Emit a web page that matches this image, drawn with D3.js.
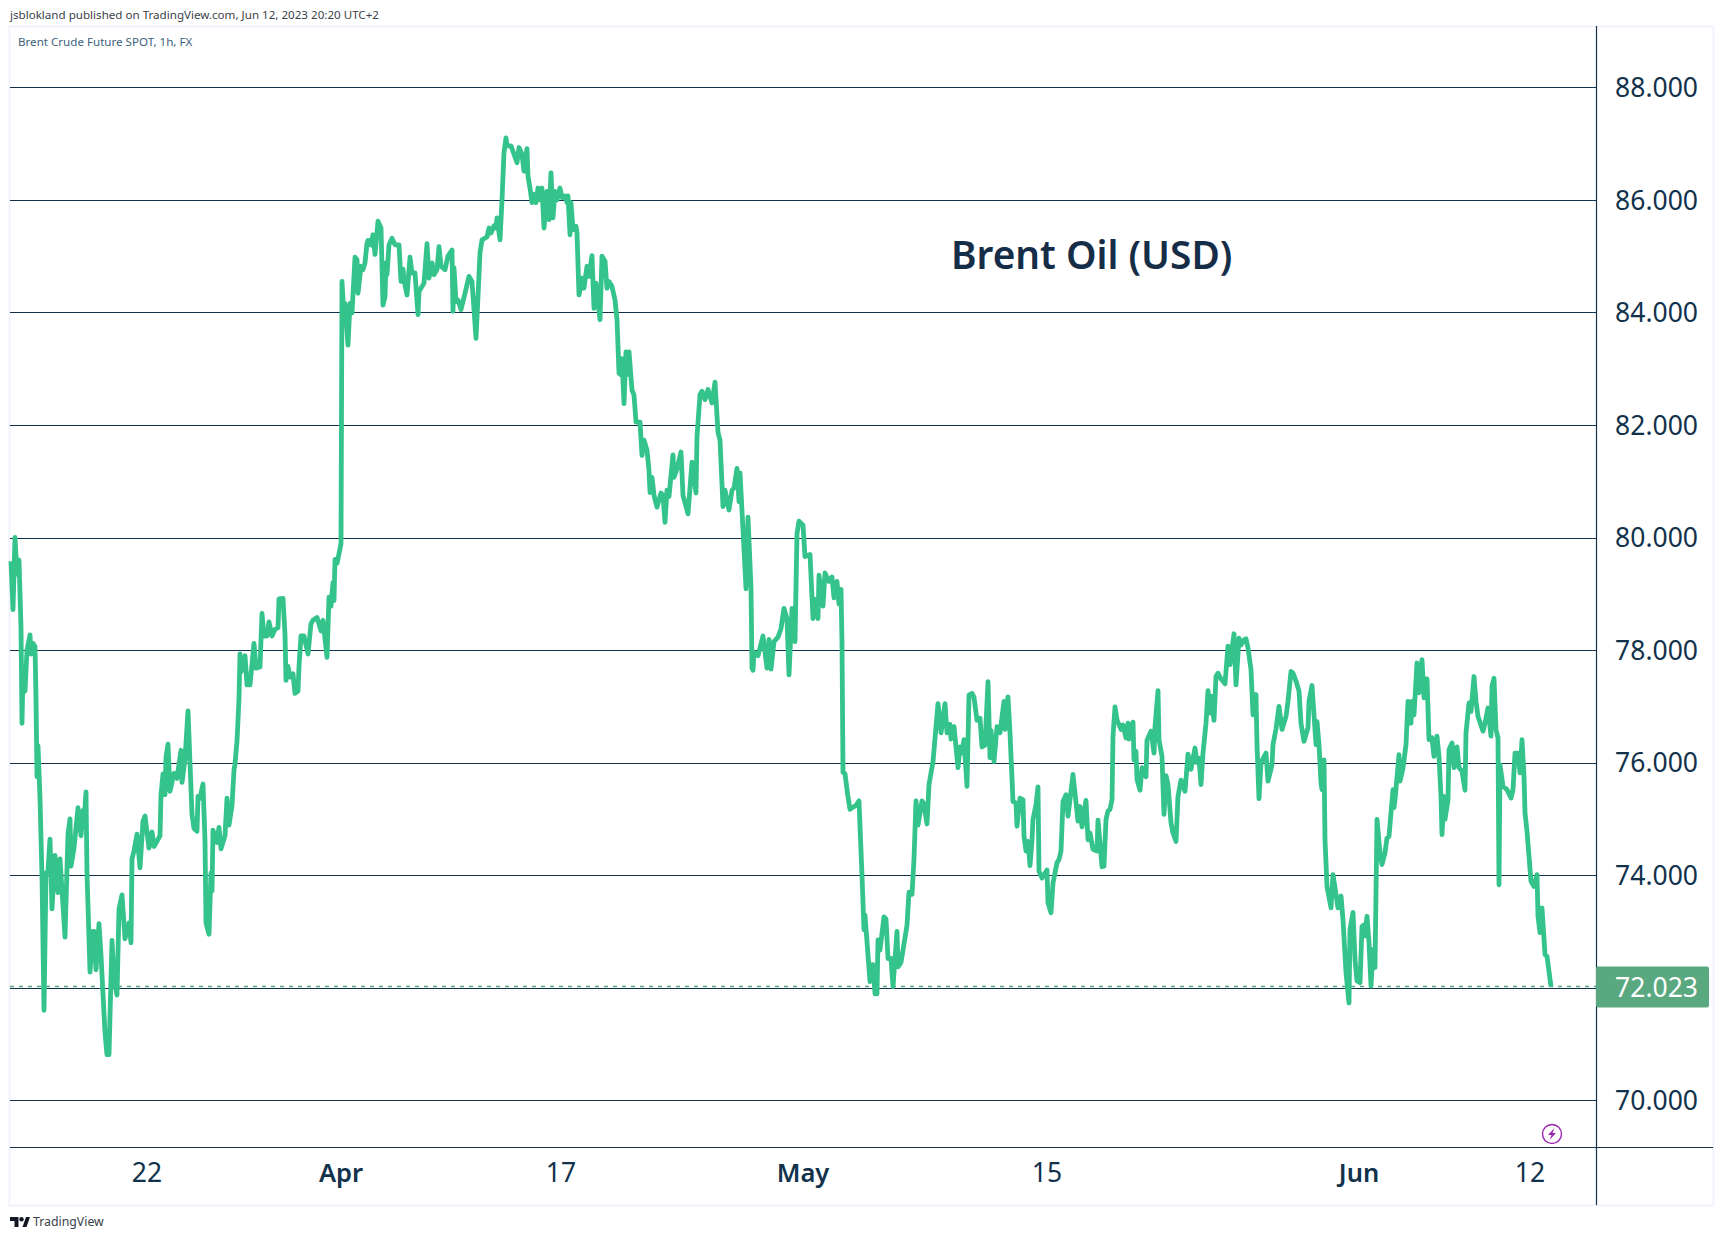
<!DOCTYPE html>
<html>
<head>
<meta charset="utf-8">
<title>Brent Oil (USD)</title>
<script src="https://cdn.jsdelivr.net/npm/d3@7"></script>
<style>
  html, body { margin: 0; padding: 0; background: #fff; }
  svg { display: block; }
</style>
</head>
<body>
<svg id="chart" width="1724" height="1240"></svg>
<script>
// Traced hourly closes as [bar number, USD], split by stretch of the session.
// Bar numbers count from the left edge of the pane.
const marchCloses = [[1,79.58],[3,78.72],[5,80.0],[7,79.35],[9,79.6],[11,78.4],[12,76.7],[13,77.6],[15,77.27],[17,78.0],[20,78.27],[21,77.93],[23,78.12],[25,78.06],[26,77.14],[27,75.75],[28,76.3],[30,75.37],[32,73.97],[34,71.6],[36,74.04],[38,74.07],[40,74.64],[42,73.4],[45,74.35],[48,73.69],[50,74.29],[55,72.9],[58,74.73],[60,75.0],[61,74.16],[64,74.48],[68,75.2],[71,74.7],[73,75.15],[74,74.96],[76,75.48],[77,74.04],[80,72.28],[83,73.0],[84,73.0],[86,72.32],[89,73.14],[91,72.58],[95,71.2],[97,70.81],[99,70.81],[102,72.84],[104,72.14],[107,71.87],[109,73.4],[112,73.65],[115,72.87],[119,73.15],[121,72.8],[122,74.29],[124,74.43],[127,74.73],[130,74.13],[133,74.96],[135,75.05],[139,74.48],[142,74.77],[144,74.51],[150,74.7],[151,75.43],[153,75.8],[155,75.43],[156,76.09],[158,76.33],[160,75.49],[164,75.81],[167,75.72],[171,76.22],[172,75.65],[175,76.06],[178,76.92],[180,76.0],[182,75.08],[184,74.83],[187,74.78],[188,75.4],[190,75.37],[193,75.62],[195,74.61],[196,73.15],[199,72.95],[201,74.04],[202,73.72],[203,74.8],[207,74.58],[209,74.85],[211,74.47],[215,74.7],[217,75.37],[219,74.89],[222,75.24],[224,75.87],[225,75.97],[227,76.38],[229,77.14],[230,77.93],[231,77.61],[235,77.9],[237,77.38],[240,77.38],[244,78.12],[246,77.68],[250,77.7],[252,78.65],[254,78.25],[257,78.25],[259,78.5],[262,78.25],[265,78.37],[268,78.4],[269,78.91],[273,78.92],[275,78.28],[276,77.46],[278,77.71],[280,77.52],[283,77.58],[285,77.23],[288,77.27],[289,77.71],[291,78.25],[294,78.25],[298,77.93],[301,78.47],[303,78.53],[307,78.58],[311,78.34],[313,78.53],[317,77.87],[319,78.94],[321,78.78],[323,79.2],[324,78.88],[325,79.61],[327,79.54],[331,79.89]];

const aprilCloses = [[332,84.55],[334,83.93],[335,84.16],[338,83.42],[340,84.16],[342,83.99],[345,84.98],[347,84.94],[348,84.34],[351,84.82],[353,84.76],[355,84.88],[357,85.23],[358,85.28],[361,85.2],[363,85.38],[365,85.03],[368,85.62],[371,85.5],[373,84.13],[375,84.28],[376,84.88],[377,84.67],[379,85.2],[382,85.32],[385,85.2],[389,85.2],[391,84.55],[393,84.77],[394,84.58],[397,84.31],[400,84.98],[402,84.7],[405,84.7],[408,83.96],[409,84.37],[414,84.52],[417,85.22],[419,84.61],[422,84.88],[424,84.67],[427,84.76],[429,85.17],[431,84.82],[435,84.76],[438,85.0],[442,85.11],[443,84.02],[444,84.79],[446,84.19],[448,84.22],[451,84.05],[455,84.34],[459,84.64],[462,84.55],[464,84.05],[466,83.54],[468,84.28],[470,85.06],[472,85.29],[477,85.34],[479,85.5],[481,85.41],[484,85.54],[486,85.5],[487,85.68],[490,85.29],[492,86.0],[494,86.84],[496,87.1],[497,86.96],[501,86.96],[504,86.81],[507,86.66],[509,86.93],[512,86.81],[514,86.51],[517,86.91],[518,86.42],[520,86.21],[522,85.95],[524,86.1],[526,85.95],[528,86.21],[530,86.0],[532,86.21],[534,85.5],[537,86.15],[539,85.65],[541,86.48],[543,85.68],[545,86.15],[547,86.0],[550,86.21],[552,86.04],[555,86.07],[557,85.95],[558,86.07],[560,85.38],[561,85.95],[563,85.47],[566,85.53],[567,85.41],[569,84.31],[572,84.61],[574,84.43],[577,84.82],[579,84.64],[582,85.01],[584,84.07],[586,84.52],[590,83.87],[592,85.0],[595,84.91],[597,84.43],[599,84.55],[602,84.46],[605,84.22],[607,83.87],[609,82.92],[611,82.89],[612,83.18],[614,82.38],[616,83.3],[618,82.9],[619,83.3],[622,82.62],[624,82.53],[626,82.05],[630,82.05],[632,81.46],[634,81.73],[637,81.55],[639,81.19],[640,80.8],[642,81.07],[644,80.75],[647,80.54],[651,80.79],[653,80.75],[655,80.27],[657,80.84],[659,80.73],[663,81.47],[664,81.07],[667,81.22],[671,81.52],[673,80.75],[678,80.42],[682,81.34],[686,80.79],[687,81.79],[690,82.54],[692,82.6],[695,82.45],[698,82.63],[702,82.39],[705,82.76],[708,81.87],[710,81.73],[713,80.55],[715,80.84],[719,80.49],[722,80.84],[724,80.88],[727,81.23],[729,80.64],[730,81.15],[733,80.14],[736,79.09],[738,80.36],[741,79.11],[742,77.68],[743,77.64],[744,77.96],[748,77.9],[753,78.25],[757,77.68],[759,78.19],[761,77.66],[764,78.15],[768,78.23],[771,78.38],[774,78.74],[777,78.56],[779,77.56],[782,78.74],[785,78.15],[787,80.07],[789,80.29]];

const mayCloses = [[793,80.22],[795,79.66],[800,79.7],[803,78.56],[805,78.9],[808,78.56],[809,79.33],[813,78.78],[815,79.37],[819,79.22],[822,79.3],[824,78.93],[827,79.22],[829,78.82],[831,79.08],[832,78.12],[833,75.83],[835,75.8],[838,75.39],[840,75.17],[843,75.21],[846,75.24],[849,75.32],[852,73.99],[854,73.03],[855,73.29],[860,72.11],[862,72.41],[863,72.41],[865,71.89],[867,71.89],[868,72.85],[870,72.67],[874,73.26],[876,73.22],[878,72.52],[881,72.52],[883,72.02],[887,73.0],[888,72.37],[891,72.45],[897,73.11],[899,73.7],[902,73.66],[904,74.29],[906,75.32],[908,74.89],[912,75.32],[914,75.26],[917,74.91],[919,75.61],[923,76.02],[928,77.05],[931,76.53],[935,77.05],[937,76.53],[940,76.68],[941,76.42],[944,76.64],[948,75.91],[950,76.28],[952,76.17],[954,76.41],[957,75.58],[959,77.2],[962,77.23],[964,77.16],[967,76.75],[970,76.79],[972,76.28],[975,76.31],[978,77.44],[980,76.09],[981,76.57],[984,76.02],[987,76.64],[990,76.53],[994,77.09],[995,76.59],[998,77.17],[1000,76.53],[1003,75.31],[1006,75.28],[1007,74.87],[1010,75.37],[1013,75.34],[1014,74.69],[1016,74.43],[1018,74.6],[1020,74.17],[1022,74.63],[1023,74.99],[1026,75.25],[1028,75.57],[1029,74.07],[1032,73.95],[1037,74.09],[1038,73.51],[1041,73.33],[1043,73.86],[1047,74.22],[1049,74.28],[1051,74.43],[1053,75.31],[1056,75.43],[1058,75.05],[1063,75.79],[1065,75.46],[1068,74.96],[1070,75.22],[1072,74.86],[1076,75.33],[1078,74.63],[1080,74.75],[1083,74.46],[1087,74.43],[1088,74.98],[1092,74.15],[1094,74.16],[1096,74.99],[1098,75.14],[1100,75.17],[1102,75.34],[1103,76.47],[1105,76.99],[1107,76.76],[1111,76.59],[1113,76.67],[1116,76.44],[1118,76.7],[1119,76.42],[1123,76.72],[1124,76.05],[1126,76.2],[1127,75.7],[1130,75.51],[1132,75.91],[1136,75.75],[1137,76.4],[1141,76.56],[1144,76.17],[1145,76.64],[1148,77.28],[1149,76.41],[1152,76.11],[1153,75.58],[1154,75.08],[1156,75.77],[1158,75.61],[1161,74.93],[1163,74.75],[1166,74.6],[1168,75.4],[1171,75.69],[1175,75.49],[1178,76.15],[1181,75.88],[1185,76.26],[1187,76.0],[1189,76.08],[1191,75.61],[1193,76.17],[1196,76.7],[1198,77.28],[1200,76.88],[1201,77.18],[1204,76.75],[1206,77.53],[1208,77.59],[1211,77.49],[1215,77.4],[1218,78.07],[1220,77.74],[1224,78.29],[1226,77.38],[1229,78.21],[1231,78.09],[1234,78.18],[1236,78.2],[1238,78.04],[1241,77.65],[1243,76.85],[1246,77.21],[1247,76.32],[1249,75.36],[1251,76.0],[1256,76.17],[1258,75.67],[1262,75.96],[1263,76.32],[1266,76.6],[1269,77.0],[1272,76.59],[1276,76.82],[1278,77.09],[1281,77.62],[1283,77.59],[1286,77.45],[1289,77.27],[1291,76.7],[1294,76.38],[1298,76.62],[1299,77.09],[1302,77.37],[1306,76.32],[1307,76.73],[1309,76.32],[1311,75.64],[1312,75.52],[1314,76.05],[1315,74.63],[1317,73.8],[1321,73.42],[1323,74.01],[1325,73.78],[1328,73.42],[1331,73.63],[1333,73.21],[1336,72.27],[1339,71.73]];

const juneCloses = [[1340,73.04],[1343,73.34],[1345,72.5],[1347,72.12],[1350,72.09],[1352,73.09],[1354,73.12],[1355,72.92],[1357,73.27],[1359,72.8],[1361,72.03],[1363,72.68],[1365,72.36],[1367,74.99],[1370,74.4],[1372,74.19],[1375,74.4],[1377,74.66],[1379,74.69],[1381,75.11],[1383,75.52],[1384,75.2],[1385,75.34],[1389,76.14],[1390,75.67],[1393,75.9],[1396,76.32],[1398,77.09],[1401,76.7],[1402,77.09],[1404,76.85],[1407,77.77],[1409,77.24],[1412,77.83],[1414,77.15],[1417,77.49],[1419,76.41],[1422,76.44],[1424,76.11],[1427,76.47],[1429,76.11],[1431,75.4],[1432,74.72],[1434,75.4],[1435,74.99],[1438,75.34],[1439,76.23],[1442,76.35],[1444,75.91],[1447,76.28],[1449,75.91],[1452,75.85],[1455,75.51],[1456,76.53],[1459,77.06],[1461,76.91],[1464,77.53],[1466,77.09],[1468,76.82],[1473,76.56],[1475,76.7],[1478,76.97],[1481,76.47],[1482,77.36],[1484,77.5],[1486,76.59],[1488,76.44],[1489,73.83],[1490,75.96],[1493,75.58],[1497,75.52],[1501,75.37],[1503,75.52],[1505,76.17],[1508,76.17],[1510,75.82],[1512,76.41],[1514,75.76],[1515,75.11],[1517,74.78],[1521,73.89],[1524,73.8],[1527,74.01],[1528,73.27],[1530,72.98],[1532,73.42],[1535,72.59],[1537,72.56],[1541,72.023]];

// Right-hand price ticks and the bottom time ticks.
const priceTicks = [70, 72, 74, 76, 78, 80, 82, 84, 86, 88];
const timeBars = [137, 331, 551, 793, 1037, 1349, 1520];
const timeLabels = ["22", "Apr", "17", "May", "15", "Jun", "12"];
const monthLabels = ["Apr", "May", "Jun"];
const lastPrice = 72.023;

const INK = "#12324c";
const GREEN = "#34c38b";
const font = "'Noto Sans', sans-serif";

const pane = { left: 10, right: 1596, top: 27, bottom: 1147 };
const frame = { right: 1713, bottom: 1205 };

const x = d3.scaleLinear().domain([0, 1586]).range([pane.left, pane.right]);
const y = d3.scaleLinear().domain([88, 70]).range([87.3, 1100.3]);

const svg = d3.select("#chart").style("font-family", font);

// Outer frame of the chart widget.
svg.append("rect")
  .attr("x", 9.5).attr("y", 26.5)
  .attr("width", frame.right - 9).attr("height", frame.bottom - 26)
  .attr("fill", "#fff").attr("stroke", "#f0f3fa").attr("stroke-width", 2);

// Horizontal price grid, drawn through the price axis generator.
svg.append("g")
  .attr("transform", `translate(${pane.right},0)`)
  .call(d3.axisLeft(y).tickValues(priceTicks).tickSize(pane.right - pane.left).tickFormat(""))
  .call(g => g.select(".domain").remove())
  .call(g => g.selectAll(".tick line")
    .attr("stroke", INK).attr("stroke-width", 1).attr("shape-rendering", "crispEdges"));

// Last-price guide.
svg.append("line")
  .attr("x1", pane.left).attr("x2", pane.right)
  .attr("y1", y(lastPrice)).attr("y2", y(lastPrice))
  .attr("stroke", "#5aa57f").attr("stroke-width", 1.4).attr("stroke-dasharray", "4 5");

// Price line.
const series = [...marchCloses, ...aprilCloses, ...mayCloses, ...juneCloses];
const line = d3.line().x(d => x(d[0])).y(d => y(d[1]));
svg.append("path")
  .datum(series)
  .attr("d", line)
  .attr("fill", "none")
  .attr("stroke", GREEN)
  .attr("stroke-width", 4.8)
  .attr("stroke-linejoin", "round")
  .attr("stroke-linecap", "butt");

// Scale separators.
svg.append("line")
  .attr("x1", pane.right + 0.5).attr("x2", pane.right + 0.5)
  .attr("y1", 26).attr("y2", frame.bottom)
  .attr("stroke", INK).attr("stroke-width", 1.2);
svg.append("line")
  .attr("x1", pane.left).attr("x2", frame.right)
  .attr("y1", pane.bottom + 0.5).attr("y2", pane.bottom + 0.5)
  .attr("stroke", INK).attr("stroke-width", 1);

// Price labels; 72 sits behind the last-price tag.
svg.append("g").selectAll("text")
  .data(priceTicks.filter(d => d !== 72))
  .join("text")
  .attr("x", 1698).attr("y", d => y(d) + 0.5)
  .attr("dy", "0.35em")
  .attr("text-anchor", "end")
  .attr("font-size", 26.5)
  .attr("fill", INK)
  .text(d => d3.format(".3f")(d));

// Last-price tag.
svg.append("rect")
  .attr("x", pane.right).attr("y", y(lastPrice) - 20)
  .attr("width", 113).attr("height", 41).attr("rx", 2)
  .attr("fill", "#5aa880");
svg.append("text")
  .attr("x", 1698).attr("y", y(lastPrice) + 1).attr("dy", "0.35em")
  .attr("text-anchor", "end").attr("font-size", 26.5).attr("fill", "#fff")
  .text(d3.format(".3f")(lastPrice));

// Time labels; month starts are emphasised.
svg.append("g").selectAll("text")
  .data(timeLabels)
  .join("text")
  .attr("x", (d, i) => x(timeBars[i]))
  .attr("y", 1173).attr("dy", "0.35em")
  .attr("text-anchor", "middle")
  .attr("font-size", d => monthLabels.includes(d) ? 25.5 : 26.5)
  .attr("font-weight", d => monthLabels.includes(d) ? 600 : 400)
  .attr("fill", INK)
  .text(d => d);

// Annotation.
svg.append("text")
  .attr("x", 951).attr("y", 255).attr("dy", "0.35em")
  .attr("font-size", 38.8).attr("font-weight", 600)
  .attr("fill", "#152d47")
  .text("Brent Oil (USD)");

// Header and pane legend.
svg.append("text")
  .attr("x", 10).attr("y", 15).attr("dy", "0.35em")
  .attr("font-size", 11.6).attr("fill", "#3a3f4a")
  .text("jsblokland published on TradingView.com, Jun 12, 2023 20:20 UTC+2");
svg.append("text")
  .attr("x", 18).attr("y", 42).attr("dy", "0.35em")
  .attr("font-size", 11.6).attr("fill", "#3d5f7c")
  .text("Brent Crude Future SPOT, 1h, FX");

// Real-time marker above the time scale.
const bolt = svg.append("g").attr("transform", "translate(1552,1134)");
bolt.append("circle").attr("r", 9.5).attr("fill", "#fff").attr("stroke", "#9c27b0").attr("stroke-width", 1.4);
bolt.append("path").attr("d", "M2.5,-6 L-4,1 L-0.5,1 L-2.5,6 L4,-1 L0.5,-1 Z").attr("fill", "#9c27b0");

// Footer brand.
const brand = svg.append("g").attr("transform", "translate(10,1217)");
brand.append("path").attr("d", "M0,0 H8.5 V10 H4.5 V4 H0 Z M12.5,10 L16,0 H20 L16.5,10 Z").attr("fill", "#131722");
brand.append("circle").attr("cx", 11.5).attr("cy", 2.2).attr("r", 2.2).attr("fill", "#131722");
svg.append("text")
  .attr("x", 33).attr("y", 1222).attr("dy", "0.35em")
  .attr("font-size", 12.3).attr("fill", "#3a3f4a")
  .text("TradingView");
</script>
</body>
</html>
